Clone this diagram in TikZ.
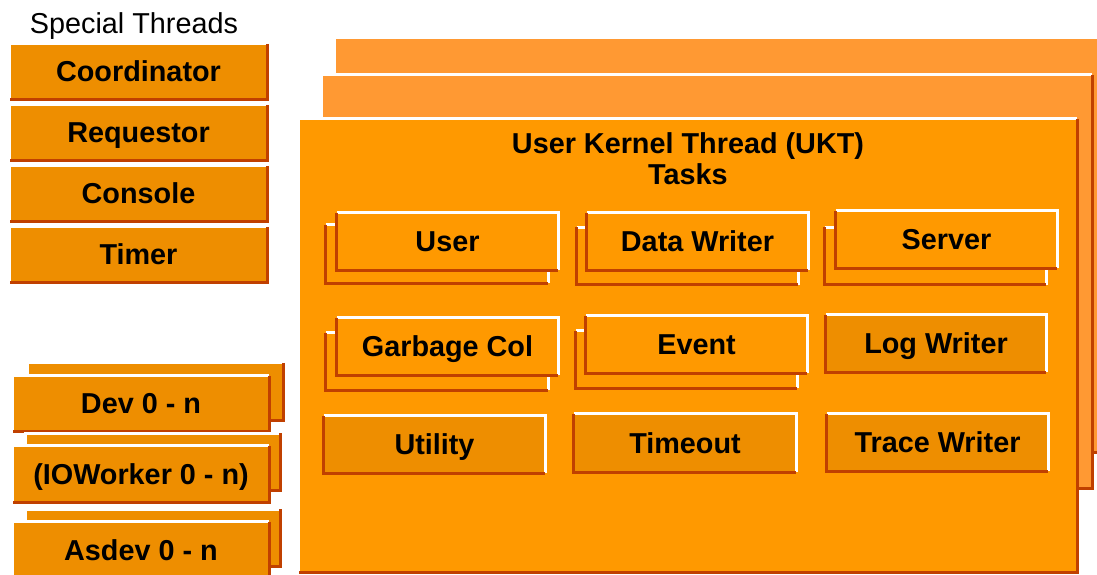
\documentclass[tikz,border=0pt]{standalone}
\usepackage{fontspec}
\setmainfont{Liberation Sans}
\definecolor{boxfill}{RGB}{238,142,0}
\definecolor{uktfill}{RGB}{255,153,0}
\definecolor{backfill}{RGB}{255,153,51}
\definecolor{edgedark}{RGB}{192,64,0}
\tikzset{
  bigfont/.style={font=\fontsize{28.8}{31}\selectfont\bfseries, text=black},
  lbl/.style={bigfont, text height=20.6pt, text depth=0pt},
  darkedge/.style={draw=edgedark, line width=3pt, line join=miter},
  liteedge/.style={draw=white, line width=3pt, line join=miter},
  sbox/.style={fill=boxfill, inner sep=0pt, minimum width=257pt, minimum height=55pt, lbl},
  devback/.style={fill=boxfill, inner sep=0pt, minimum width=255pt, minimum height=57pt},
  frame/.style={inner sep=0pt},
  taskbox/.style={fill=uktfill, inner sep=0pt, minimum width=221pt, minimum height=57pt, lbl},
  taskplain/.style={fill=boxfill, inner sep=0pt, minimum width=221pt, minimum height=57pt, lbl},
}
\newcommand\bevelTL[1]{%
  \draw[liteedge] (#1.south west) -- (#1.north west) -- (#1.north east);
  \draw[darkedge] (#1.north east) -- (#1.south east) -- (#1.south west);}
\newcommand\bevelTR[1]{%
  \draw[liteedge] (#1.north west) -- (#1.north east) -- (#1.south east);
  \draw[darkedge] (#1.north west) -- (#1.south west) -- (#1.south east);}
\begin{document}
\begin{tikzpicture}[x=1pt,y=-1pt]
\useasboundingbox (0,0) rectangle (1097,574);
\clip (0,0) rectangle (1097,574);
\fill[white] (0,0) rectangle (1097,574);

% Special threads
\node[font=\fontsize{28.8}{31}\selectfont, text height=20.6pt, text depth=0pt] (stitle) at (134,23) {Special Threads};
\node[sbox] (coord) at (138.5,71.5) {Coordinator};
\bevelTL{coord}
\node[sbox] (req) at (138.5,132.5) {Requestor};
\bevelTL{req}
\node[sbox] (cons) at (138.5,193.5) {Console};
\bevelTL{cons}
\node[sbox] (timer) at (138.5,254.5) {Timer};
\bevelTL{timer}

% Device threads
\node[devback] (devb) at (155.5,391.5) {};
\bevelTL{devb}
\node[sbox, minimum width=256pt] (dev) at (141,403.5) {Dev 0 - n};
\bevelTL{dev}
\node[devback] (iob) at (153,462) {};
\bevelTL{iob}
\node[sbox, minimum width=256pt, minimum height=56pt] (iow) at (141,474) {(IOWorker 0 - n)};
\bevelTL{iow}
\node[devback] (asb) at (153,538) {};
\bevelTL{asb}
\node[sbox, minimum width=256pt, minimum height=56pt] (asdev) at (141,550) {Asdev 0 - n};
\bevelTL{asdev}

% UKT frames
\node[frame, fill=backfill, minimum width=795pt, minimum height=414pt] (f3) at (732.5,245) {};
\bevelTL{f3}
\node[frame, fill=backfill, minimum width=770pt, minimum height=413pt] (f2) at (707,281.5) {};
\bevelTL{f2}
\node[frame, fill=uktfill, minimum width=778pt, minimum height=453pt] (f1) at (688,345.5) {};
\bevelTL{f1}
\node[bigfont, align=center] (ukt) at (688,158.5) {User Kernel Thread (UKT)\\Tasks};

% Tasks row 1
\node[taskbox, minimum width=222pt, minimum height=58pt] (userb) at (437,254) {};
\bevelTR{userb}
\node[taskbox] (user) at (447.5,241.5) {User};
\bevelTR{user}
\node[taskbox] (dwb) at (687.5,256) {};
\bevelTR{dwb}
\node[taskbox] (dw) at (697.5,241.5) {Data Writer};
\bevelTR{dw}
\node[taskbox] (srvb) at (935.5,256) {};
\bevelTR{srvb}
\node[taskbox] (srv) at (946.5,239.5) {Server};
\bevelTR{srv}

% Tasks row 2
\node[taskbox, minimum width=222pt] (gcb) at (437,361.5) {};
\bevelTR{gcb}
\node[taskbox] (gc) at (447.5,346.5) {Garbage Col};
\bevelTR{gc}
\node[taskbox] (evb) at (686.5,359.5) {};
\bevelTR{evb}
\node[taskbox] (ev) at (696.5,344.5) {Event};
\bevelTR{ev}
\node[taskplain, minimum width=220pt] (lw) at (936,343.5) {Log Writer};
\bevelTR{lw}

% Tasks row 3
\node[taskplain] (util) at (434.5,444.5) {Utility};
\bevelTR{util}
\node[taskplain, minimum width=222pt, minimum height=58pt] (tmo) at (685,443) {Timeout};
\bevelTR{tmo}
\node[taskplain] (tw) at (937.5,442.5) {Trace Writer};
\bevelTR{tw}
\end{tikzpicture}
\end{document}
